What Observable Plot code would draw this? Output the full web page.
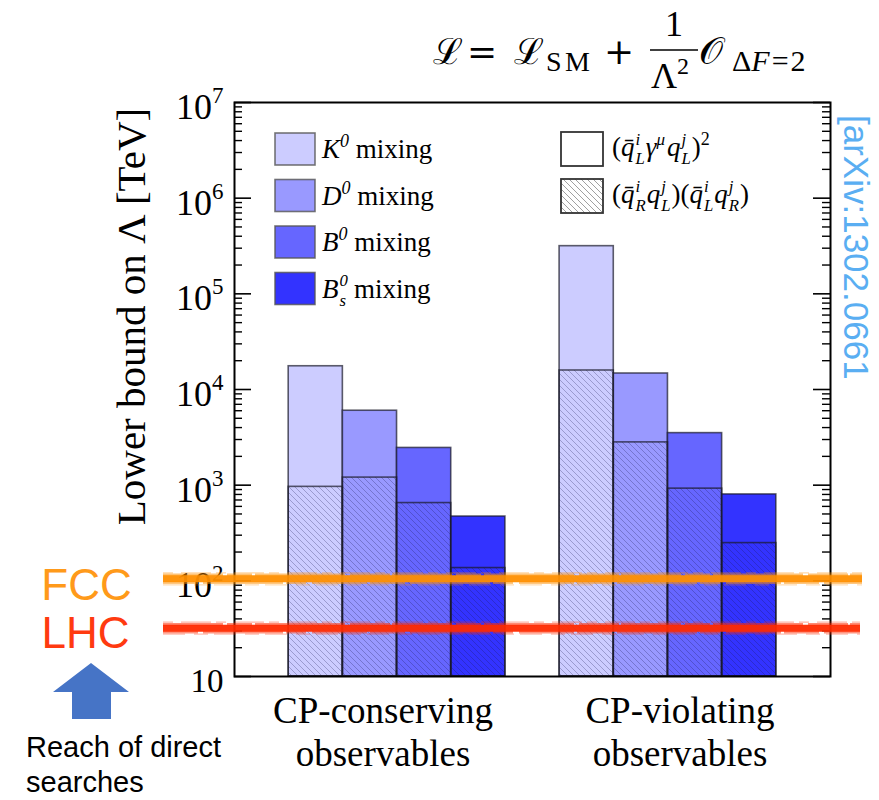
<!DOCTYPE html>
<html>
<head>
<meta charset="utf-8">
<script src="https://cdn.jsdelivr.net/npm/d3@7"></script>
<script src="https://cdn.jsdelivr.net/npm/@observablehq/plot@0.6"></script>
<style>
  body { margin: 0; background: #fff; }
  #wrap { position: relative; width: 879px; height: 800px; overflow: hidden; }
  #wrap svg { display: block; }
</style>
</head>
<body>
<div id="wrap"></div>
<script>
// ---------------- data ----------------
const groups = ["CP-conserving\nobservables", "CP-violating\nobservables"];
const mesons = ["K0", "D0", "B0", "Bs0"];
const mesonColors = ["#ccccff", "#9999ff", "#6666ff", "#3333ff"];
// lower bound on Lambda [TeV], (q_L gamma q_L)^2 operator
const boundLLConserving = [17500, 6000, 2450, 470];
const boundLLViolating = [315000, 14700, 3500, 800];
// lower bound on Lambda [TeV], (q_R q_L)(q_L q_R) operator (hatched)
const boundLRConserving = [960, 1200, 650, 136];
const boundLRViolating = [15800, 2800, 920, 248];
// reach of direct searches [TeV]
const fccReach = 105;
const lhcReach = 32;
const yMajorTicks = [10, 100, 1e3, 1e4, 1e5, 1e6, 1e7];
const yTickLabels = ["10", "10^2", "10^3", "10^4", "10^5", "10^6", "10^7"];

// ---------------- build table ----------------
const llByGroup = [boundLLConserving, boundLLViolating];
const lrByGroup = [boundLRConserving, boundLRViolating];
const bars = [];
groups.forEach((g, gi) => mesons.forEach((m, mi) => bars.push({
  group: g, meson: m,
  x1: 1 + gi * 5 + mi, x2: 2 + gi * 5 + mi,
  ll: llByGroup[gi][mi], lr: lrByGroup[gi][mi], color: mesonColors[mi]
})));
const yMinorTicks = d3.scaleLog().domain([10, 1e7]).ticks().filter(t => !yMajorTicks.includes(t));

// ---------------- layout ----------------
const W = 879, H = 800, ML = 234, MR = 49, MT = 102, MB = 124;
const FW = W - ML - MR;
const serif = '"Liberation Serif", "Times New Roman", serif';

function brush(value, color, extL, extR) {
  const base = {y: d => d, stroke: color, insetLeft: -extL, insetRight: -extR};
  return [
    Plot.ruleY([value], {...base, strokeWidth: 7, strokeOpacity: 0.95}),
    Plot.ruleY([value], {...base, strokeWidth: 2.5, dy: -4, strokeOpacity: 0.55, strokeDasharray: "60 4 25 3 90 5 40 2"}),
    Plot.ruleY([value], {...base, strokeWidth: 2.5, dy: 4, strokeOpacity: 0.5, strokeDasharray: "35 5 80 3 20 6 55 3"}),
    Plot.ruleY([value], {...base, strokeWidth: 1.2, dy: -6, strokeOpacity: 0.35, strokeDasharray: "10 8 30 5"}),
    Plot.ruleY([value], {...base, strokeWidth: 1.2, dy: 6, strokeOpacity: 0.3, strokeDasharray: "22 9 14 6"})
  ];
}

const chart = Plot.plot({
  width: W, height: H,
  marginLeft: ML, marginRight: MR, marginTop: MT, marginBottom: MB,
  style: {fontFamily: serif, background: "#fff", overflow: "visible"},
  x: {domain: [0, 11], axis: null},
  y: {type: "log", domain: [10, 1e7], axis: null},
  color: {type: "identity"},
  marks: [
    Plot.rectY(bars, {x1: "x1", x2: "x2", y1: 10, y2: "ll", fill: "color", stroke: "#1a1a2a", strokeOpacity: 0.7, strokeWidth: 1.6}),
    Plot.rectY(bars, {x1: "x1", x2: "x2", y1: 10, y2: "lr", fill: "url(#hatch)", stroke: "#1a1a2a", strokeOpacity: 0.7, strokeWidth: 1.6}),
    // inward ticks, left and right
    Plot.ruleY(yMajorTicks, {insetRight: FW - 17, stroke: "#000", strokeWidth: 1.6}),
    Plot.ruleY(yMinorTicks, {insetRight: FW - 8, stroke: "#000", strokeWidth: 1.4}),
    Plot.ruleY(yMajorTicks, {insetLeft: FW - 17, stroke: "#000", strokeWidth: 1.6}),
    Plot.ruleY(yMinorTicks, {insetLeft: FW - 8, stroke: "#000", strokeWidth: 1.4}),
    Plot.frame({stroke: "#000", strokeWidth: 2}),
    // tick labels
    Plot.text(yMajorTicks, {y: d => d, text: (d, i) => yTickLabels[i], frameAnchor: "left", textAnchor: "end", dx: -11, dy: 5, fontSize: 36, fill: "#000", className: "ytl"}),
    // y label
    Plot.text(["Lower bound on \u039B [TeV]"], {frameAnchor: "left", textAnchor: "middle", rotate: -90, dx: -103, dy: -73, fontSize: 41, fill: "#000"}),
    // group labels
    Plot.text([groups[0]], {x: 3, frameAnchor: "bottom", lineAnchor: "top", textAnchor: "middle", dy: 17, dx: -14, fontSize: 37, lineHeight: 1.14, fill: "#000"}),
    Plot.text([groups[1]], {x: 8, frameAnchor: "bottom", lineAnchor: "top", textAnchor: "middle", dy: 17, dx: 12, fontSize: 37, lineHeight: 1.14, fill: "#000"}),
    // reach of direct searches
    ...brush(fccReach, "#ff8f00", 71, 32),
    ...brush(lhcReach, "#ff2a00", 71, 30),
    Plot.text([fccReach], {y: d => d, text: () => "FCC", frameAnchor: "left", textAnchor: "middle", dx: -148, dy: 7, fontSize: 44, fill: "#ff9a1a", fontFamily: '"Liberation Sans", sans-serif', style: "letter-spacing:6px"}),
    Plot.text([lhcReach], {y: d => d, text: () => "LHC", frameAnchor: "left", textAnchor: "middle", dx: -149, dy: 6, fontSize: 44, fill: "#ff3a10", fontFamily: '"Liberation Sans", sans-serif'})
  ]
});
document.getElementById("wrap").appendChild(chart);

const svg = d3.select(chart);
// hatch patterns
const defs = svg.insert("defs", ":first-child");
function hatch(id, color, width) {
  const p = defs.append("pattern").attr("id", id).attr("patternUnits", "userSpaceOnUse").attr("width", 6).attr("height", 6);
  p.append("path").attr("d", "M-1,-1 L7,7 M5,-1 L7,1 M-1,5 L1,7").attr("stroke", color).attr("stroke-width", width).attr("fill", "none");
}
hatch("hatch", "rgba(25,25,80,0.28)", 1);
hatch("hatchLegend", "#a0a0a0", 1);

// superscripts for tick labels
svg.selectAll(".ytl text").each(function () {
  const s = this.textContent;
  const m = s.match(/^10\^(\d)$/);
  const t = d3.select(this);
  if (m) {
    t.text("");
    t.append("tspan").text("10");
    t.append("tspan").attr("font-size", 23).attr("dy", -16).text(m[1]);
  } else {
    t.attr("font-size", 33);
  }
});

// ---------- rich text helper ----------
const ann = svg.append("g").attr("font-family", serif).attr("fill", "#000").attr("text-anchor", "start");
function rich(x, y, size, parts, extra = {}) {
  const t = ann.append("text").attr("x", x).attr("y", y).attr("font-size", size).attr("text-anchor", "start");
  for (const k in extra) t.attr(k, extra[k]);
  let cur = 0, pend = 0;
  for (const p of parts) {
    if (p.stack) {
      const sh1 = -size * 0.42, sh2 = size * 0.3;
      const a = t.append("tspan").text(p.stack[0]).attr("font-size", size * 0.62).attr("font-style", "italic").attr("dy", sh1 - cur).attr("dx", pend + 1);
      const wa = a.node().getComputedTextLength();
      const b = t.append("tspan").text(p.stack[1]).attr("font-size", size * 0.62).attr("font-style", "italic").attr("dy", sh2 - sh1).attr("dx", -wa);
      const wb = b.node().getComputedTextLength();
      cur = sh2; pend = Math.max(0, wa - wb) + 1;
      continue;
    }
    const sh = p.shift || 0;
    const ts = t.append("tspan").text(p.t).attr("dy", sh - cur).attr("dx", pend + (p.dx || 0));
    pend = 0; cur = sh;
    if (p.size) ts.attr("font-size", p.size);
    if (p.it) ts.attr("font-style", "italic");
    if (p.ff) ts.attr("font-family", p.ff);
  }
  return t;
}

// ---------- legend: mesons ----------
const legTop = [133, 179.5, 226, 272.5];
const mesonParts = [
  [{t: "K", it: true}, {t: "0", it: true, size: 18, shift: -11}, {t: " mixing"}],
  [{t: "D", it: true}, {t: "0", it: true, size: 18, shift: -11}, {t: " mixing"}],
  [{t: "B", it: true}, {t: "0", it: true, size: 18, shift: -11}, {t: " mixing"}],
  [{t: "B", it: true}, {stack: ["0", "s"]}, {t: "mixing", dx: 5}]
];
legTop.forEach((y, i) => {
  ann.append("rect").attr("x", 275).attr("y", y).attr("width", 40).attr("height", 32)
    .attr("fill", mesonColors[i]).attr("stroke", "#555").attr("stroke-opacity", 0.8).attr("stroke-width", 1.6);
  rich(322, y + 25, 27, mesonParts[i]);
});

// ---------- legend: operators ----------
ann.append("rect").attr("x", 561).attr("y", 132).attr("width", 42).attr("height", 34)
  .attr("fill", "#fff").attr("stroke", "#333").attr("stroke-width", 1.8);
ann.append("rect").attr("x", 561).attr("y", 179).attr("width", 42).attr("height", 34)
  .attr("fill", "url(#hatchLegend)").attr("stroke", "#333").attr("stroke-width", 1.8);
const qb = "q\u0304";
rich(612, 156, 27, [
  {t: "("}, {t: qb, it: true}, {stack: ["i", "L"]}, {t: "\u03B3", it: true},
  {t: "\u03BC", it: true, size: 17, shift: -11}, {t: "q", it: true, dx: 2}, {stack: ["j", "L"]},
  {t: ")"}, {t: "2", size: 18, shift: -11}
]);
rich(612, 203, 27, [
  {t: "("}, {t: qb, it: true}, {stack: ["i", "R"]}, {t: "q", it: true}, {stack: ["j", "L"]},
  {t: ")("}, {t: qb, it: true}, {stack: ["i", "L"]}, {t: "q", it: true}, {stack: ["j", "R"]}, {t: ")"}
]);

// ---------- formula title ----------
const mathFont = '"DejaVu Serif", "Liberation Serif", serif';
rich(433, 64, 36, [{t: "\u2112", ff: mathFont}]);
rich(467, 64, 36, [{t: "="}], {"font-family": mathFont});
rich(514, 64, 36, [{t: "\u2112", ff: mathFont}]);
rich(546, 71, 28, [{t: "SM"}], {"textLength": 44});
rich(604, 64, 36, [{t: "+"}], {"font-family": mathFont});
ann.append("text").attr("x", 674).attr("y", 36).attr("font-size", 36).attr("text-anchor", "middle").text("1");
ann.append("line").attr("x1", 650).attr("x2", 698).attr("y1", 50).attr("y2", 50).attr("stroke", "#000").attr("stroke-width", 1.6);
rich(651, 88, 36, [{t: "\u039B"}, {t: "2", size: 24, shift: -14}]);
rich(699, 64, 38, [{t: "\uD835\uDCAA", ff: mathFont}]);
rich(732, 71, 30, [{t: "\u0394"}, {t: "F", it: true}, {t: "=", dx: 2}, {t: "2", dx: 2}]);

// ---------- arXiv reference ----------
ann.append("text").attr("transform", "translate(844,115) rotate(90)").attr("text-anchor", "start")
  .attr("font-family", '"Liberation Sans", Arial, sans-serif').attr("font-size", 35)
  .attr("fill", "#5aaef2").text("[arXiv:1302.0661");

// ---------- arrow + note ----------
ann.append("path").attr("d", "M53,692 L91,663 L129,692 L111,692 L111,719 L72,719 L72,692 Z").attr("fill", "#4674c6");
const note = ann.append("text").attr("text-anchor", "start").attr("font-family", '"Liberation Sans", Arial, sans-serif').attr("font-size", 29).attr("fill", "#000");
note.append("tspan").attr("x", 26).attr("y", 757).text("Reach of direct");
note.append("tspan").attr("x", 26).attr("y", 792).text("searches");
</script>
</body>
</html>
